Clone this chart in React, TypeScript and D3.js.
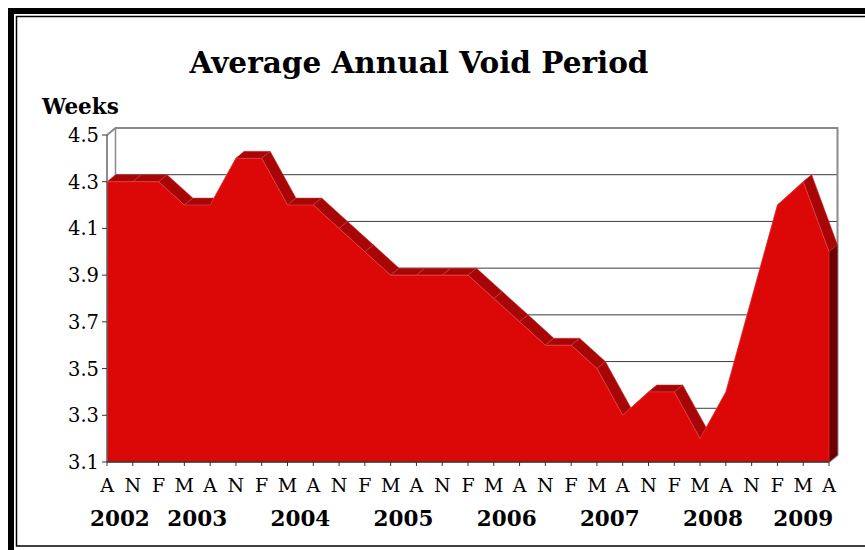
import React from 'react';
import * as d3 from 'd3';

// Quarterly observation months (Aug, Nov, Feb, May ...) from Aug 2002 to Aug 2009
const months = [
  'A', 'N',
  'F', 'M', 'A', 'N',
  'F', 'M', 'A', 'N',
  'F', 'M', 'A', 'N',
  'F', 'M', 'A', 'N',
  'F', 'M', 'A', 'N',
  'F', 'M', 'A', 'N',
  'F', 'M', 'A',
];
const years = ['2002', '2003', '2004', '2005', '2006', '2007', '2008', '2009'];
// Average annual void period in weeks
const voidWeeks = [
  4.3, 4.3,
  4.3, 4.2, 4.2, 4.4,
  4.4, 4.2, 4.2, 4.1,
  4.0, 3.9, 3.9, 3.9,
  3.9, 3.8, 3.7, 3.6,
  3.6, 3.5, 3.3, 3.4,
  3.4, 3.2, 3.4, 3.8,
  4.2, 4.3, 4.0,
];
const yTicks = [3.1, 3.3, 3.5, 3.7, 3.9, 4.1, 4.3, 4.5];

const W = 865;
const H = 550;
const DX = 8.5; // depth offset of the 3D walls
const DY = -7;
const FONT = "'DejaVu Serif', 'Liberation Serif', serif";

const FRONT = '#dc0807';
const TOP = '#a80606';
const SIDE = '#700000';

export default function App() {
  const idx = months.map((_, i) => i);
  const x = d3.scalePoint<number>().domain(idx).range([107, 829]);
  const y = d3.scaleLinear().domain([3.1, 4.5]).range([462, 135]);
  const y0 = y(3.1);
  const yTop = y(4.5);
  const xl = x(0)!;
  const xr = x(idx.length - 1)!;

  // group categories into years: a new year starts at each 'F'
  const groups: { year: string; start: number; end: number }[] = [];
  let g = 0;
  months.forEach((m, i) => {
    if (i > 0 && m === 'F') g += 1;
    if (!groups[g]) groups[g] = { year: years[g], start: i, end: i };
    groups[g].end = i;
  });

  const pts = voidWeeks.map((v, i) => [x(i)!, y(v)] as [number, number]);
  const front = d3.area<[number, number]>().x((d) => d[0]).y0(y0).y1((d) => d[1])(pts)!;

  const topFaces = pts.slice(0, -1).map((p, i) => {
    const q = pts[i + 1];
    return [p, q, [q[0] + DX, q[1] + DY], [p[0] + DX, p[1] + DY]] as [number, number][];
  });
  const last = pts[pts.length - 1];
  const side: [number, number][] = [
    last,
    [last[0] + DX, last[1] + DY],
    [last[0] + DX, y0 + DY],
    [last[0], y0],
  ];
  const poly = (p: [number, number][]) => p.map((d) => d.join(',')).join(' ');

  return (
    <svg
      width={W}
      height={H}
      style={{ position: 'absolute', left: 0, top: 0, background: '#fff' }}
    >
      {/* frame */}
      <rect x={11} y={11} width={W + 40} height={H + 40} fill="none" stroke="#000" strokeWidth={6} />
      <rect x={16.5} y={16.5} width={W + 40} height={529.5} fill="none" stroke="#000" strokeWidth={1.5} />

      {/* title */}
      <text x={419} y={73} textAnchor="middle" fontFamily={FONT} fontWeight="bold" fontSize={29.5}>
        Average Annual Void Period
      </text>
      <text x={42} y={114} fontFamily={FONT} fontWeight="bold" fontSize={21.5}>
        Weeks
      </text>

      {/* back wall gridlines */}
      {yTicks.slice(1, -1).map((t) => (
        <line key={t} x1={xl + DX} x2={xr + DX} y1={y(t) + DY} y2={y(t) + DY} stroke="#3c3c3c" strokeWidth={1} />
      ))}
      {/* wall outline */}
      <polyline
        points={poly([
          [xl, yTop],
          [xl + DX, yTop + DY],
          [xr + DX, yTop + DY],
          [xr + DX, y0 + DY],
          [xr, y0],
        ])}
        fill="none"
        stroke="#8a8a8a"
        strokeWidth={2}
      />
      <line x1={xl + DX} x2={xl + DX} y1={yTop + DY} y2={y0 + DY} stroke="#8a8a8a" strokeWidth={1.5} />

      {/* 3D area */}
      {topFaces.map((f, i) => (
        <polygon key={i} points={poly(f)} fill={TOP} stroke="#c43a3a" strokeWidth={0.5} />
      ))}
      <polygon points={poly(side)} fill={SIDE} />
      <path d={front} fill={FRONT} stroke="#e35050" strokeWidth={0.5} />

      {/* value axis */}
      <line x1={xl} x2={xl} y1={yTop} y2={y0} stroke="#666" strokeWidth={1.5} />
      {yTicks.map((t) => (
        <g key={t}>
          <line x1={xl - 5} x2={xl} y1={y(t)} y2={y(t)} stroke="#333" strokeWidth={1} />
          <text x={99} y={y(t) + 7} textAnchor="end" fontFamily={FONT} fontSize={19.5}>
            {t.toFixed(1)}
          </text>
        </g>
      ))}

      {/* category axis */}
      <line x1={xl} x2={xr} y1={y0} y2={y0} stroke="#333" strokeWidth={1.5} />
      {idx.map((i) => (
        <g key={i}>
          <line x1={x(i)} x2={x(i)} y1={y0} y2={y0 + 4} stroke="#333" strokeWidth={1} />
          <text x={x(i)} y={492} textAnchor="middle" fontFamily={FONT} fontSize={19}>
            {months[i]}
          </text>
        </g>
      ))}
      {groups.map((gr) => (
        <text
          key={gr.year}
          x={(x(gr.start)! + x(gr.end)!) / 2}
          y={526}
          textAnchor="middle"
          fontFamily={FONT}
          fontWeight="bold"
          fontSize={21.5}
        >
          {gr.year}
        </text>
      ))}
    </svg>
  );
}
